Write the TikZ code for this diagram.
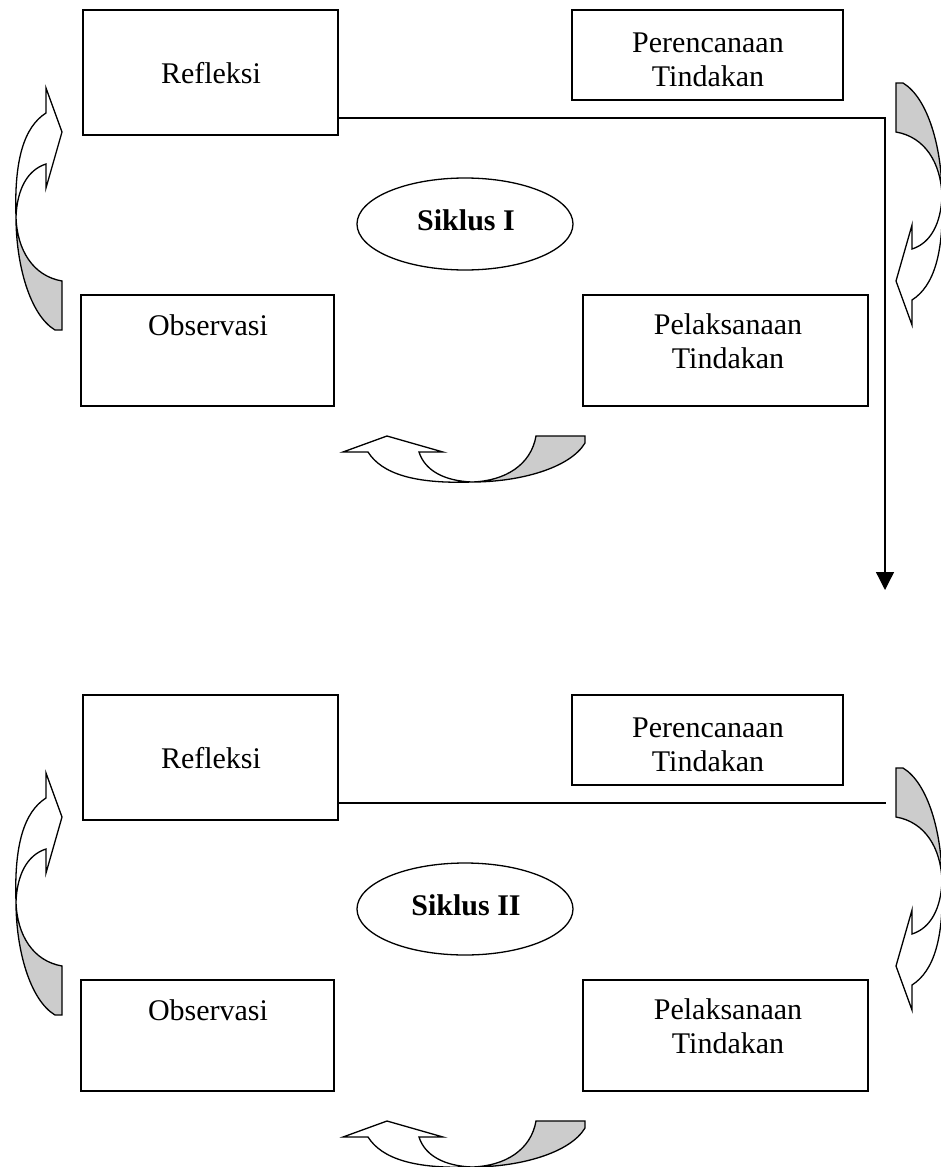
\documentclass[tikz,border=0pt]{standalone}
\usepackage{fontspec}
\setmainfont{Liberation Serif}
\usetikzlibrary{arrows.meta,shapes.geometric}
\definecolor{arrowgrey}{RGB}{204,204,204}
\tikzset{
  box/.style={draw, line width=1.3pt, rectangle, inner sep=0pt, outer sep=0pt, anchor=north west},
  oval/.style={draw, line width=1.3pt, ellipse, inner sep=0pt, outer sep=0pt},
  lbl/.style={anchor=base, inner sep=0pt, font=\fontsize{30}{34}\selectfont},
  blbl/.style={anchor=base, inner sep=0pt, font=\fontsize{30}{34}\selectfont\bfseries},
  conn/.style={line width=1.3pt},
  carrow/.pic={
    \filldraw[fill=arrowgrey, line width=1.3pt, line join=miter]
      (16,217) .. controls (16,265) and (30,315) .. (55,330) -- (62,330) -- (62,281)
      .. controls (33,276) and (17,250) .. (16,217) -- cycle;
    \filldraw[fill=white, line width=1.3pt, line join=miter]
      (16,217) .. controls (14,160) and (24,127) .. (46,113) -- (46,88) -- (62,132)
      -- (46,188) -- (46,164) .. controls (27,170) and (17,190) .. (16,217) -- cycle;
  }
}
\begin{document}
\begin{tikzpicture}[x=1pt,y=-1pt]
\useasboundingbox (0,0) rectangle (941,1167);
% ---------------- Cycle I ----------------
\node[box, minimum width=255pt, minimum height=125pt] (refl1) at (83,10) {};
\node[lbl] (refl1t) at (211,83) {Refleksi};
\node[box, minimum width=271pt, minimum height=90pt] (plan1) at (572,10) {};
\node[lbl, align=center] (plan1t) at (708,86) {Perencanaan\\Tindakan};
\node[oval, minimum width=216pt, minimum height=92pt] (sik1) at (465,224) {};
\node[blbl] (sik1t) at (466,230) {Siklus I};
\node[box, minimum width=253pt, minimum height=111pt] (obs1) at (81,295) {};
\node[lbl] (obs1t) at (208,335) {Observasi};
\node[box, minimum width=285pt, minimum height=111pt] (act1) at (583,295) {};
\node[lbl, align=center] (act1t) at (728,368) {Pelaksanaan\\Tindakan};
\coordinate (turn1) at (885,118);
\coordinate (end1) at (885,590);
\draw[conn, -{Triangle[length=18pt,width=18pt]}] (refl1.east |- turn1) -- (turn1) -- (end1);
\pic at (0,0) {carrow};
\pic[xscale=-1,yscale=-1] at (958,413) {carrow};
\pic[rotate=90] at (255,498) {carrow};
% ---------------- Cycle II ----------------
\node[box, minimum width=255pt, minimum height=125pt] (refl2) at (83,695) {};
\node[lbl] (refl2t) at (211,768) {Refleksi};
\node[box, minimum width=271pt, minimum height=90pt] (plan2) at (572,695) {};
\node[lbl, align=center] (plan2t) at (708,771) {Perencanaan\\Tindakan};
\node[oval, minimum width=216pt, minimum height=92pt] (sik2) at (465,909) {};
\node[blbl] (sik2t) at (466,915) {Siklus II};
\node[box, minimum width=253pt, minimum height=111pt] (obs2) at (81,980) {};
\node[lbl] (obs2t) at (208,1020) {Observasi};
\node[box, minimum width=285pt, minimum height=111pt] (act2) at (583,980) {};
\node[lbl, align=center] (act2t) at (728,1053) {Pelaksanaan\\Tindakan};
\coordinate (turn2) at (886,803);
\draw[conn] (refl2.east |- turn2) -- (turn2);
\pic at (0,685) {carrow};
\pic[xscale=-1,yscale=-1] at (958,1098) {carrow};
\pic[rotate=90] at (255,1183) {carrow};
\end{tikzpicture}
\end{document}
